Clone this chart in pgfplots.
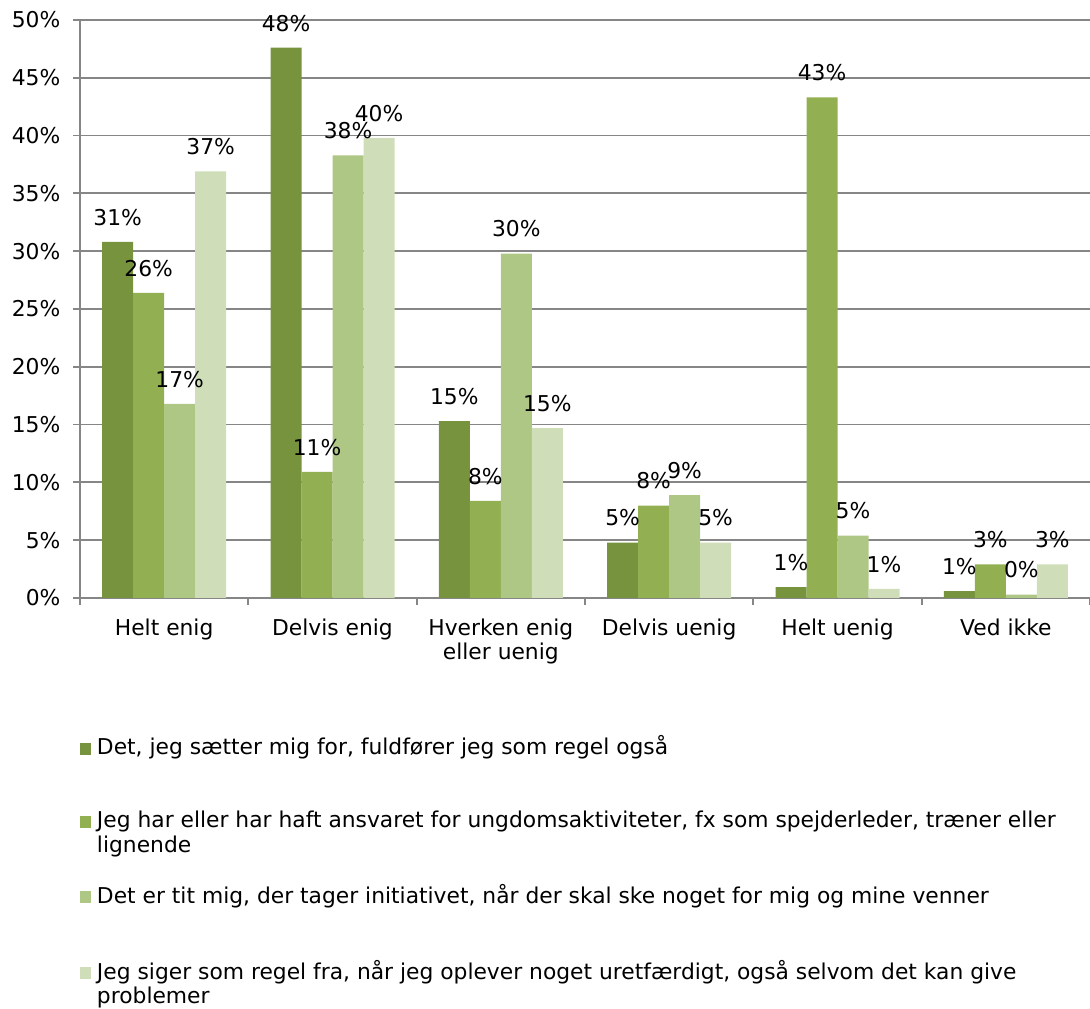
\documentclass[border=0pt]{standalone}
\usepackage{fontspec}
\setmainfont{DejaVu Sans}
\usepackage{pgfplots}
\pgfplotsset{compat=1.18}
\definecolor{g1}{RGB}{119,147,62}
\definecolor{g2}{RGB}{146,176,82}
\definecolor{g3}{RGB}{175,199,133}
\definecolor{g4}{RGB}{207,221,185}
\definecolor{gridgray}{RGB}{134,134,134}
% legend text: wrapped box
\newcommand{\lentry}[1]{\parbox[t]{490pt}{\raggedright\hyphenpenalty=10000 #1}}

\begin{document}
\fontsize{10.9}{12.3}\selectfont
\begin{tikzpicture}
\begin{axis}[
    width=505pt, height=289pt, scale only axis,
    ybar=0pt, bar width=15.5pt,
    ymin=0, ymax=50, xmin=-0.5, xmax=5.5,
    axis lines=left,
    axis line style={-, draw=gridgray, line width=0.9pt},
    ymajorgrids, grid style={gridgray, line width=0.9pt},
    ytick={0,5,...,50},
    yticklabel={\pgfmathprintnumber{\tick}\%},
    yticklabel style={xshift=-2.5pt},
    xtick={0,...,5},
    xticklabels={Helt enig, Delvis enig, {Hverken enig\\eller uenig}, Delvis uenig, Helt uenig, Ved ikke},
    xticklabel style={align=center, yshift=-3pt},
    minor xtick={-0.5,0.5,...,5.5},
    tick align=outside,
    major tick length=3.5pt, minor tick length=3.5pt,
    tick style={gridgray, line width=0.9pt},
    major x tick style={draw=none},
    /pgf/number format/assume math mode=true,
    nodes near coords={\pgfmathprintnumber[fixed,precision=0]{\pgfplotspointmeta}\%},
    every node near coord/.append style={anchor=south, inner sep=0pt, yshift=8pt, black},
    legend style={at={(0,0)}, anchor=north west, yshift=-68.5pt, draw=none, fill=none,
        inner sep=0pt, row sep=2.3pt, cells={anchor=base west},
        nodes={inner sep=0pt, anchor=base west, text=black},
        /tikz/every odd column/.append style={column sep=2.8pt}},
    % the invisible point below the square keeps the rows evenly apart
    legend image code/.code={\fill[#1] (0pt,0pt) rectangle (5.5pt,6pt); \path (0pt,-26pt);},
]
\addplot[fill=g1, draw=none] coordinates {(0,30.8) (1,47.6) (2,15.3) (3,4.8) (4,0.95) (5,0.6)};
\addplot[fill=g2, draw=none] coordinates {(0,26.4) (1,10.9) (2,8.4) (3,8.0) (4,43.3) (5,2.9)};
\addplot[fill=g3, draw=none] coordinates {(0,16.8) (1,38.3) (2,29.8) (3,8.9) (4,5.4) (5,0.3)};
\addplot[fill=g4, draw=none] coordinates {(0,36.9) (1,39.8) (2,14.7) (3,4.8) (4,0.8) (5,2.9)};
\addlegendentry{\lentry{Det, jeg sætter mig for, fuldfører jeg som regel også}}
\addlegendentry{\lentry{Jeg har eller har haft ansvaret for ungdomsaktiviteter, fx som spejderleder, træner eller lignende}}
\addlegendentry{\lentry{Det er tit mig, der tager initiativet, når der skal ske noget for mig og mine venner}}
\addlegendentry{\lentry{Jeg siger som regel fra, når jeg oplever noget uretfærdigt, også selvom det kan give problemer}}
\end{axis}
\pgfresetboundingbox
\path ([xshift=-40pt,yshift=-205.5pt]current axis.south west) rectangle ([yshift=10pt]current axis.north east);
\end{tikzpicture}
\end{document}
